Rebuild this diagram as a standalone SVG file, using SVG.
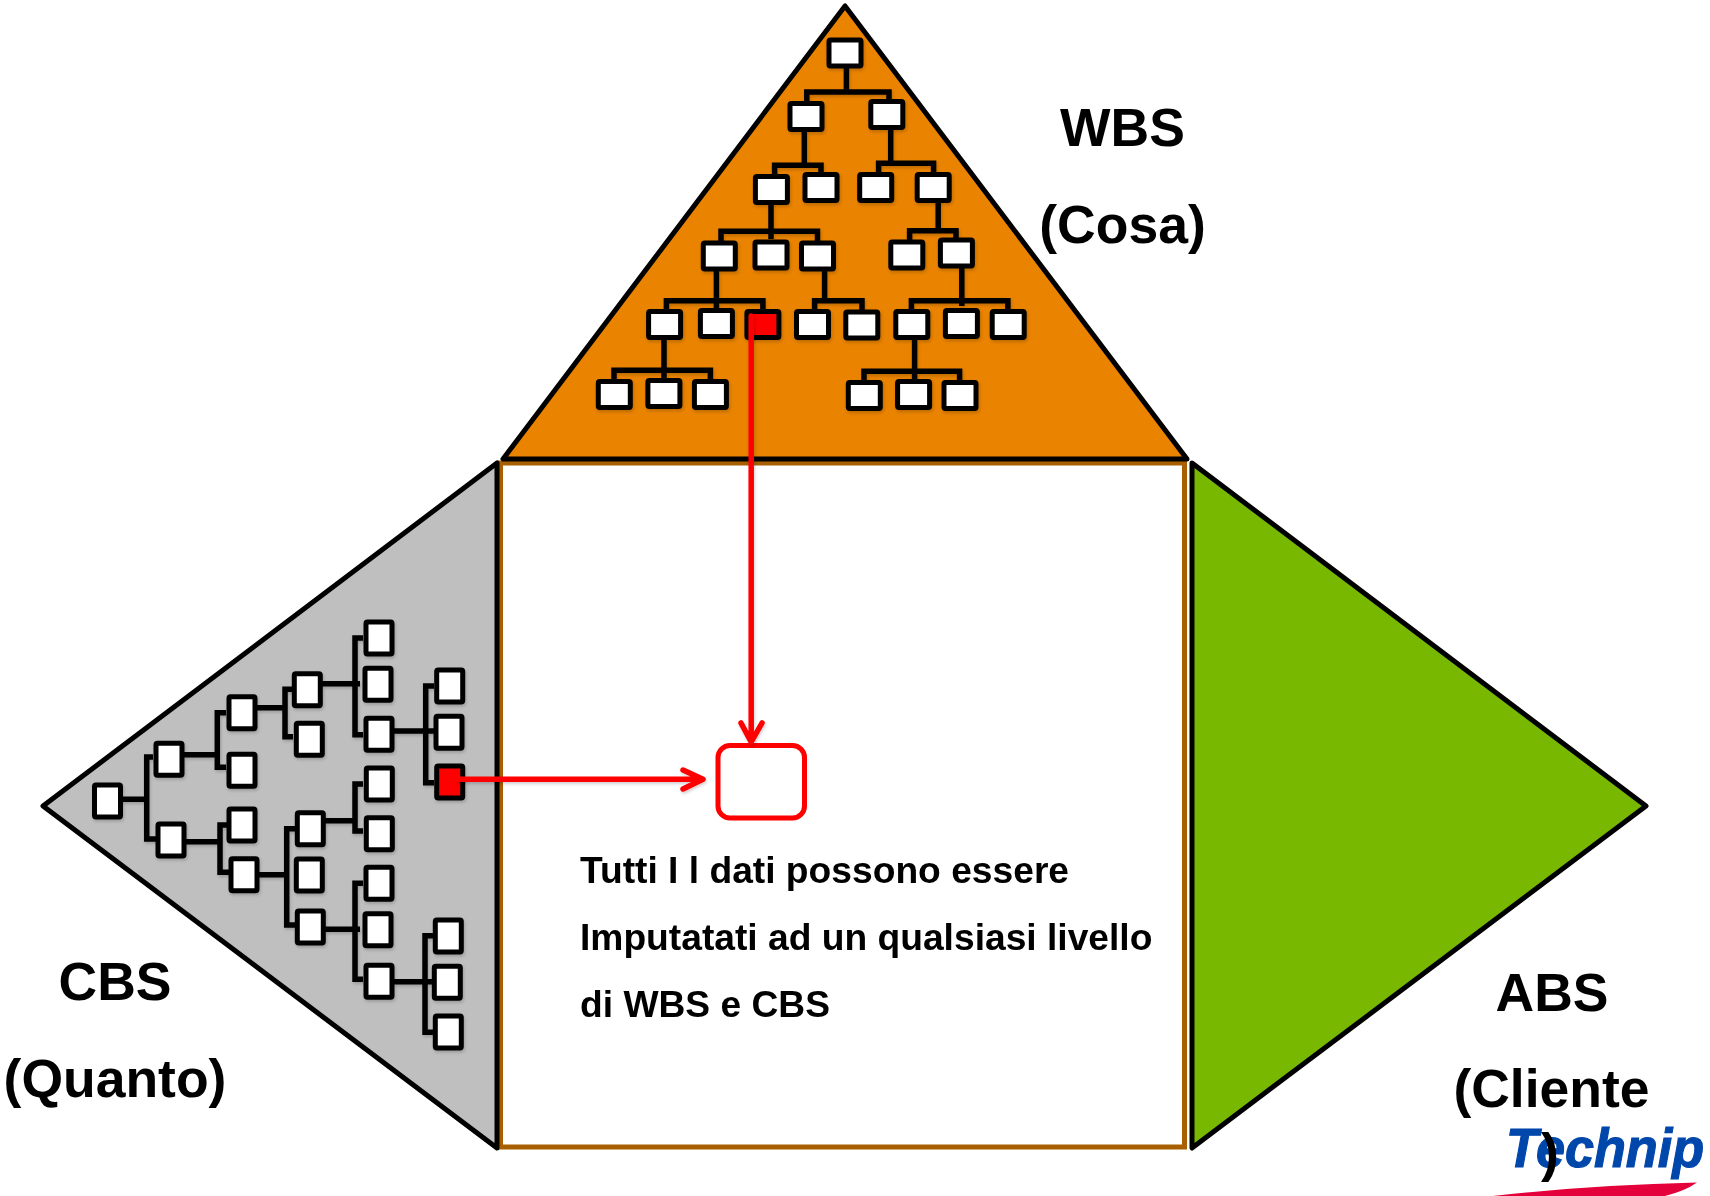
<svg xmlns="http://www.w3.org/2000/svg" width="1710" height="1196" viewBox="0 0 1710 1196">
<style>
text{font-family:"Liberation Sans",Arial,sans-serif;font-weight:bold;fill:#000}
.big{font-size:53.5px;text-anchor:middle}
.body{font-size:37.2px}
.tri{stroke:#000;stroke-width:5;stroke-linejoin:round}
.n{fill:#fff;stroke:#000;stroke-width:5;stroke-linejoin:round}
.r{fill:#f00}
.c{fill:none;stroke:#000;stroke-width:5.5;stroke-linejoin:miter}
.a{fill:none;stroke:#f00;stroke-width:5.5;stroke-linecap:round;stroke-linejoin:round}
</style>
<defs>
<filter id="sh" x="-20%" y="-20%" width="140%" height="140%"><feDropShadow dx="1" dy="2" stdDeviation="1.5" flood-color="#000" flood-opacity="0.18"/></filter>
<symbol id="h" width="36" height="31" viewBox="0 0 36 31" overflow="visible"><rect x="2" y="2.5" width="32" height="26" rx="1.5"/></symbol>
<symbol id="v" width="31" height="36" viewBox="0 0 31 36" overflow="visible"><rect x="2.5" y="2" width="26" height="32" rx="1.5"/></symbol>
</defs>

<g id="square"><rect x="500.5" y="463" width="684" height="684" fill="#fff" stroke="#A85F00" stroke-width="5"/></g>
<g id="wbs-triangle"><polygon class="tri" points="845,6 503,459 1187,459" fill="#E98300"/></g>
<g id="cbs-triangle"><polygon class="tri" points="43,806 497,463 497,1148" fill="#BFBFBF"/></g>
<g id="abs-triangle"><polygon class="tri" points="1192,463 1646,806 1192,1148" fill="#78B800"/></g>

<g id="connectors">
<g filter="url(#sh)">
<path class="c" d="M846.4 68V92M806.8 102V92H889V100"/>
<path class="c" d="M804.3 131V165.3M774.6 175V165.3H821V173"/>
<path class="c" d="M890.7 129V163.3M878.6 173V163.3H933.6V173"/>
<path class="c" d="M771 204V239M721 241V231.3H817.5V241"/>
<path class="c" d="M938.2 202V230.7M909.6 240V230.7H956V238"/>
<path class="c" d="M716.4 271V308M666.4 310V300.7H762.9V310"/>
<path class="c" d="M824.6 271V300.7M814.6 310V300.7H862V310"/>
<path class="c" d="M961.8 268V306M911.4 310V300.7H1007.9V310"/>
<path class="c" d="M664 340V378M614 380V370.3H710.4V380"/>
<path class="c" d="M914.6 340V379M864 381V371.3H959.6V381"/>
<path class="c" d="M122 799.3H146.7M153 757H146.7V839H156"/>
<path class="c" d="M184 754.7H217.3M226 712.7H217.3V767.3H226"/>
<path class="c" d="M186 841.7H220M229 825H220V872.3H229"/>
<path class="c" d="M257 707.7H285M293 689.3H285V736.7H293"/>
<path class="c" d="M259 874.7H286.7M295 828.7H286.7V925H295"/>
<path class="c" d="M322 683.7H360M363 638H355V734.7H363"/>
<path class="c" d="M325 820.7H355M363 784H355V831H363"/>
<path class="c" d="M325 929.3H360M363 883.3H355V979.3H363"/>
<path class="c" d="M394 731H434M434 686H425.7V782.7H434"/>
<path class="c" d="M394 981.7H432M433 935.7H425V1032.3H433"/>
</g>
</g>

<g id="wbs-tree" filter="url(#sh)">
<g id="w1" class="n"><use href="#h" x="827" y="37.5"/></g>
<g id="w2" class="n"><use href="#h" x="788" y="101"/></g>
<g id="w3" class="n"><use href="#h" x="868.8" y="99"/></g>
<g id="w4" class="n"><use href="#h" x="753.4" y="174"/></g>
<g id="w5" class="n"><use href="#h" x="803" y="172"/></g>
<g id="w6" class="n"><use href="#h" x="857.7" y="172"/></g>
<g id="w7" class="n"><use href="#h" x="915.2" y="172"/></g>
<g id="w8" class="n"><use href="#h" x="701.3" y="240.5"/></g>
<g id="w9" class="n"><use href="#h" x="753" y="239.5"/></g>
<g id="w10" class="n"><use href="#h" x="799.5" y="240.5"/></g>
<g id="w11" class="n"><use href="#h" x="888.8" y="239.5"/></g>
<g id="w12" class="n"><use href="#h" x="938.4" y="237.5"/></g>
<g id="w13" class="n"><use href="#h" x="646.6" y="309"/></g>
<g id="w14" class="n"><use href="#h" x="698.4" y="308"/></g>
<g id="w15" class="n r"><use href="#h" x="744.9" y="309" style="fill:#f00"/></g>
<g id="w16" class="n"><use href="#h" x="794.5" y="309"/></g>
<g id="w17" class="n"><use href="#h" x="843.8" y="309.5"/></g>
<g id="w18" class="n"><use href="#h" x="893.8" y="309"/></g>
<g id="w19" class="n"><use href="#h" x="943.4" y="308"/></g>
<g id="w20" class="n"><use href="#h" x="990.2" y="309"/></g>
<g id="w21" class="n"><use href="#h" x="596.3" y="379"/></g>
<g id="w22" class="n"><use href="#h" x="645.9" y="378"/></g>
<g id="w23" class="n"><use href="#h" x="692.4" y="379"/></g>
<g id="w24" class="n"><use href="#h" x="846.3" y="380"/></g>
<g id="w25" class="n"><use href="#h" x="895.6" y="379"/></g>
<g id="w26" class="n"><use href="#h" x="942" y="380"/></g>
</g>

<g id="cbs-tree" filter="url(#sh)">
<g id="c1" class="n"><use href="#v" x="92" y="783"/></g>
<g id="c2" class="n"><use href="#v" x="153.5" y="741.3"/></g>
<g id="c3" class="n"><use href="#v" x="155.5" y="822"/></g>
<g id="c4" class="n"><use href="#v" x="226.5" y="694.7"/></g>
<g id="c5" class="n"><use href="#v" x="226.5" y="752.3"/></g>
<g id="c6" class="n"><use href="#v" x="226.5" y="807"/></g>
<g id="c7" class="n"><use href="#v" x="228.5" y="856.7"/></g>
<g id="c8" class="n"><use href="#v" x="291.8" y="671.7"/></g>
<g id="c9" class="n"><use href="#v" x="293.8" y="721.3"/></g>
<g id="c10" class="n"><use href="#v" x="294.8" y="810.7"/></g>
<g id="c11" class="n"><use href="#v" x="293.8" y="857"/></g>
<g id="c12" class="n"><use href="#v" x="294.8" y="909"/></g>
<g id="c13" class="n"><use href="#v" x="363.5" y="620"/></g>
<g id="c14" class="n"><use href="#v" x="362.5" y="666.3"/></g>
<g id="c15" class="n"><use href="#v" x="363.5" y="716.3"/></g>
<g id="c16" class="n"><use href="#v" x="363.8" y="766"/></g>
<g id="c17" class="n"><use href="#v" x="363.8" y="815.7"/></g>
<g id="c18" class="n"><use href="#v" x="363.5" y="865.3"/></g>
<g id="c19" class="n"><use href="#v" x="362.5" y="911.7"/></g>
<g id="c20" class="n"><use href="#v" x="363.5" y="963.3"/></g>
<g id="c21" class="n"><use href="#v" x="434.2" y="668"/></g>
<g id="c22" class="n"><use href="#v" x="433.5" y="714.3"/></g>
<g id="c23" class="n r"><use href="#v" x="434.2" y="764" style="fill:#f00"/></g>
<g id="c24" class="n"><use href="#v" x="432.8" y="918"/></g>
<g id="c25" class="n"><use href="#v" x="431.8" y="964.3"/></g>
<g id="c26" class="n"><use href="#v" x="432.8" y="1014"/></g>
</g>

<g id="target"><rect x="718" y="745.5" width="86.5" height="72.5" rx="12" fill="#fff" stroke="#f00" stroke-width="5"/></g>

<g id="red-connectors" filter="url(#sh)">
<path class="a" d="M751.2 316V741M741 723L751.2 742L762 723"/>
<path class="a" d="M458 779.3H702M683 770L703 779.3L683 789"/>
</g>

<g id="labels">
<text class="big" x="1122.5" y="146">WBS</text>
<text class="big" x="1122.5" y="243">(Cosa)</text>
<text class="big" x="115" y="1000">CBS</text>
<text class="big" x="115" y="1097">(Quanto)</text>
<text class="big" x="1552" y="1011">ABS</text>
<text class="big" x="1551.5" y="1107">(Cliente</text>
<text class="body" x="580" y="883">Tutti I l dati possono essere</text>
<text class="body" x="580" y="950">Imputatati ad un qualsiasi livello</text>
<text class="body" x="580" y="1017">di WBS e CBS</text>
</g>

<g id="logo">
<text x="1506" y="1167" font-size="56" font-style="italic" textLength="198" lengthAdjust="spacingAndGlyphs" style="fill:#0047AB;stroke:#0047AB;stroke-width:1.2">Technip</text>
<path d="M1493 1196Q1590 1185 1697 1182.5Q1685 1191 1665 1196Z" fill="#E4003A"/>
</g>
<g id="label-wrap"><text class="big" x="1550" y="1171">)</text></g>
</svg>
